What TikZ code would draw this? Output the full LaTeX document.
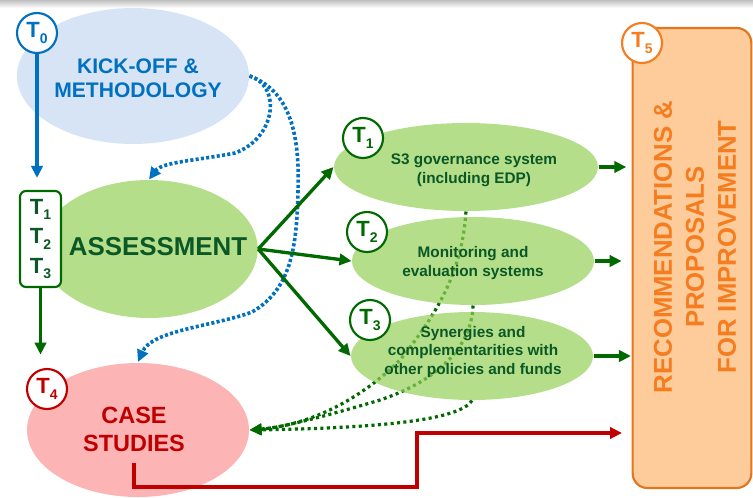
\documentclass[tikz,border=0pt]{standalone}
\usepackage{fontspec}
\setmainfont{Liberation Sans}
\usetikzlibrary{shapes.geometric,arrows.meta,backgrounds}

\definecolor{kickfill}{RGB}{214,228,245}
\definecolor{kickblue}{RGB}{0,112,192}
\definecolor{assfill}{RGB}{181,222,138}
\definecolor{subfill}{RGB}{149,208,88}
\definecolor{assgreen}{RGB}{10,88,38}
\definecolor{arrgreen}{RGB}{0,105,0}
\definecolor{casefill}{RGB}{252,180,180}
\definecolor{casered}{RGB}{192,0,0}
\definecolor{recfill}{RGB}{253,204,154}
\definecolor{recline}{RGB}{226,118,30}
\definecolor{recorange}{RGB}{245,125,32}

\newcommand{\tnum}[1]{T\raisebox{-0.45ex}{\fontsize{10.5}{10}\selectfont #1}}

\tikzset{every picture/.style={line width=0.75pt}}
\tikzset{
  blob/.style={ellipse,inner sep=0pt},
  subblob/.style={blob,fill=subfill,fill opacity=0.7,minimum height=66pt},
  tcirc/.style={circle,draw=#1,fill=white,line width=1.6pt,minimum size=30pt,inner sep=0pt,
    text=#1,font=\fontsize{16.5}{16}\selectfont\bfseries},
  subtext/.style={align=center,text=assgreen,font=\fontsize{11.5}{14}\selectfont\bfseries},
  garrow/.style={draw=arrgreen,line width=2.5pt,-{Triangle[length=9pt,width=8.5pt]}},
  bdots/.style={draw=kickblue,line width=2.7pt,dash pattern=on 2.3pt off 1.7pt,-{Triangle[length=9pt,width=8.5pt]}},
  gdots/.style={draw=arrgreen,line width=2.4pt,dash pattern=on 2.3pt off 2.5pt,-{Triangle[length=9pt,width=8pt]}}
}

\begin{document}
\begin{tikzpicture}[x=0.75pt,y=0.75pt,yscale=-1,xscale=1]
\useasboundingbox (0,0) rectangle (753,497);

%Shadow strip along the top edge
\shade[top color=black!25, bottom color=white] (0,0) rectangle (753,8);

%Shape: Ellipse
\node[blob, fill=kickfill, minimum width=174pt, minimum height=102pt] (kick) at (133,76) {};
%Shape: Ellipse
\node[blob, fill=assfill, minimum width=163pt, minimum height=103.5pt] (assess) at (149,249) {};
%Shape: Ellipse
\node[blob, fill=casefill, minimum width=166.5pt, minimum height=100.5pt] (case) at (138,430) {};
%Shape: Ellipse
\node[subblob, minimum width=198pt] (gov) at (466,167) {};
%Shape: Ellipse
\node[subblob, minimum width=181.5pt] (mon) at (473,261) {};
%Shape: Ellipse
\node[subblob, minimum width=181.5pt] (syn) at (472,356) {};

%Rounded Rect
\node[draw=arrgreen, fill=white, rounded corners=4.5pt, line width=1.6pt, minimum width=30.75pt,
  minimum height=72pt, inner sep=0pt, align=center, text=assgreen,
  font=\fontsize{16.5}{22}\selectfont\bfseries] (tbox) at (40.5,239) {\tnum{1}\\\tnum{2}\\\tnum{3}};
%Rounded Rect
\node[draw=recline, fill=recfill, rounded corners=11pt, line width=1.6pt, minimum width=89pt,
  minimum height=345pt] (rec) at (692,258) {};

%Circles
\node[tcirc=kickblue] (t0) at (37,33) {\tnum{0}};
\node[tcirc=arrgreen] (t1) at (363,138) {\tnum{1}};
\node[tcirc=arrgreen] (t2) at (367,232) {\tnum{2}};
\node[tcirc=arrgreen] (t3) at (370,320) {\tnum{3}};
\node[tcirc=casered] (t4) at (47,389) {\tnum{4}};
\node[tcirc=recorange] (t5) at (642,43) {\tnum{5}};

% Text Node
\node[align=center, text=kickblue, font=\fontsize{15.8}{18}\selectfont\bfseries] (kicklbl) at (138,78) {KICK-OFF \&\\METHODOLOGY};
% Text Node
\node[text=assgreen, font=\fontsize{19.4}{22}\selectfont\bfseries] (asslbl) at (158,247) {ASSESSMENT};
% Text Node
\node[align=center, text=casered, font=\fontsize{17.6}{21}\selectfont\bfseries] (caselbl) at (134,429) {CASE\\STUDIES};
% Text Node
\node[subtext] (govlbl) at (474,170) {S3 governance system\\(including EDP)};
% Text Node
\node[subtext] (monlbl) at (473,263) {Monitoring and\\evaluation systems};
% Text Node
\node[subtext] (synlbl) at (473,352) {Synergies and\\complementarities with\\other policies and funds};
% Text Node
\node[rotate=90, align=center, text=recorange, font=\fontsize{19.3}{24}\selectfont\bfseries] (reclbl) at (695,247)
  {RECOMMENDATIONS \&\\PROPOSALS\\FOR IMPROVEMENT};

\coordinate (redstart) at (134,463);
\coordinate (redstep) at (417,487);
\coordinate (redend) at (622,433);

%Dotted links from the three themes, behind the ellipses
\begin{pgfonlayer}{background}
\draw[gdots] (gov.south) .. controls (462,270) and (440,310) .. (400,360) .. controls (360,400) and (310,425) .. (case.east);
\draw[gdots] (mon.south) .. controls (472,345) and (440,380) .. (380,400) .. controls (330,415) and (280,428) .. (case.east);
\draw[gdots] (syn.south) .. controls (460,420) and (380,428) .. (case.east);
\end{pgfonlayer}

%Dotted links from kick-off
\draw[bdots] (kick.east) .. controls (282,86) and (276,138) .. (235,153) .. controls (200,160) and (162,162) .. (assess.north);
\draw[bdots] (kick.east) .. controls (288,90) and (300,130) .. (298,190) .. controls (297,250) and (290,290) .. (252,312) .. controls (215,326) and (152,330) .. (138,362);

%Straight Lines
\draw[garrow, draw=kickblue] (t0.south) -- (t0.south |- tbox.north) [shorten >=9pt];
\draw[garrow, shorten >=10pt] (tbox.south) -- (tbox.south |- t4.north);
\draw[garrow] (assess.east) -- (gov.west);
\draw[garrow] (assess.east) -- (mon.west);
\draw[garrow] (assess.east) -- (syn.west);
\draw[garrow, shorten >=4pt] (gov.east) -- (gov.east -| rec.west);
\draw[garrow, shorten >=7.5pt] (mon.east) -- (mon.east -| rec.west);
\draw[garrow, shorten >=0.5pt] (syn.east) -- (syn.east -| rec.west);
\draw[garrow, draw=casered, line width=2.8pt] (redstart) |- (redstep) |- (redend);

\end{tikzpicture}
\end{document}
